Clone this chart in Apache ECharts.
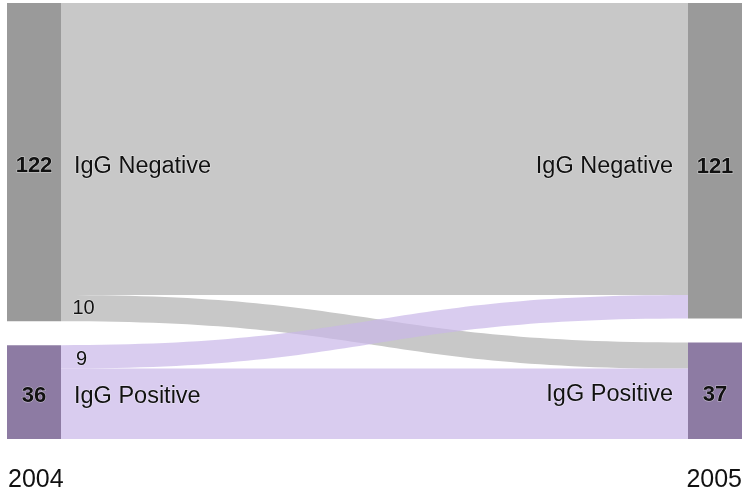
<!DOCTYPE html>
<html>
<head>
<meta charset="utf-8">
<script src="https://cdn.jsdelivr.net/npm/echarts@6/dist/echarts.min.js"></script>
<style>
  html, body { margin: 0; padding: 0; background: #fff; }
  #main { width: 753px; height: 497px; }
</style>
</head>
<body>
<div id="main"></div>
<script>
// data
const years = ['2004', '2005'];
const groups = ['IgG Negative', 'IgG Positive'];
const nodeTotals2004 = [122, 36];
const nodeTotals2005 = [121, 37];
// flows 2004 -> 2005: [from, to, value]
const flows = [
  ['IgG Negative', 'IgG Negative', 112],
  ['IgG Negative', 'IgG Positive', 10],
  ['IgG Positive', 'IgG Negative', 9],
  ['IgG Positive', 'IgG Positive', 27]
];

const nodeColors = ['#9a9a9a', '#8d7ba3'];
const linkColors = ['#c8c8c8', '#c9b6e8'];
const font = '"Liberation Sans", Arial, sans-serif';

const labelRich = {
  num: { width: 54, align: 'center', fontSize: 22, fontWeight: 'bold', color: '#111', fontFamily: font },
  nameL: { fontSize: 23.5, color: '#111', padding: [0, 0, 0, 13], fontFamily: font },
  nameR: { fontSize: 23.5, color: '#111', padding: [0, 15, 0, 0], fontFamily: font }
};

const nodes = [];
groups.forEach((g, i) => {
  nodes.push({
    name: years[0] + ' ' + g,
    depth: 0,
    itemStyle: { color: nodeColors[i] },
    label: {
      position: 'insideLeft', distance: 0, offset: [0, 4],
      formatter: '{num|' + nodeTotals2004[i] + '}{nameL|' + g + '}'
    }
  });
});
groups.forEach((g, i) => {
  nodes.push({
    name: years[1] + ' ' + g,
    depth: 1,
    itemStyle: { color: nodeColors[i] },
    label: {
      position: 'insideRight', distance: 0, offset: [0, i === 0 ? 6 : 4],
      formatter: '{nameR|' + g + '}{num|' + nodeTotals2005[i] + '}'
    }
  });
});

// label offsets for the two switching flows (moved to the left end)
const switchLabelOffset = { 1: [-291, -23], 2: [-293, 28] };

const links = flows.map((f, i) => {
  const src = groups.indexOf(f[0]);
  const item = {
    source: years[0] + ' ' + f[0],
    target: years[1] + ' ' + f[1],
    value: f[2],
    lineStyle: { color: linkColors[src], opacity: src === 0 ? 1 : 0.7 }
  };
  if (switchLabelOffset[i]) {
    item.edgeLabel = { show: true, offset: switchLabelOffset[i] };
  }
  return item;
});

const chart = echarts.init(document.getElementById('main'));
chart.setOption({
  backgroundColor: '#fff',
  animation: false,
  series: [{
    type: 'sankey',
    left: 7,
    right: 11,
    top: 3,
    bottom: 58,
    nodeWidth: 54,
    nodeGap: 24,
    layoutIterations: 0,
    draggable: false,
    emphasis: { disabled: true },
    label: {
      show: true,
      rich: labelRich,
      textBorderColor: 'rgba(255,255,255,0.5)',
      textBorderWidth: 1
    },
    edgeLabel: {
      show: false,
      fontSize: 20,
      color: '#111',
      fontFamily: font,
      formatter: p => p.value,
      textBorderColor: 'rgba(255,255,255,0.5)',
      textBorderWidth: 1
    },
    lineStyle: { curveness: 0.5 },
    data: nodes,
    links: links
  }],
  graphic: [
    { type: 'text', left: 8, top: 468, style: { text: years[0], fill: '#111', font: '25px ' + font } },
    { type: 'text', right: 11, top: 468, style: { text: years[1], fill: '#111', font: '25px ' + font } }
  ]
});
</script>
</body>
</html>
